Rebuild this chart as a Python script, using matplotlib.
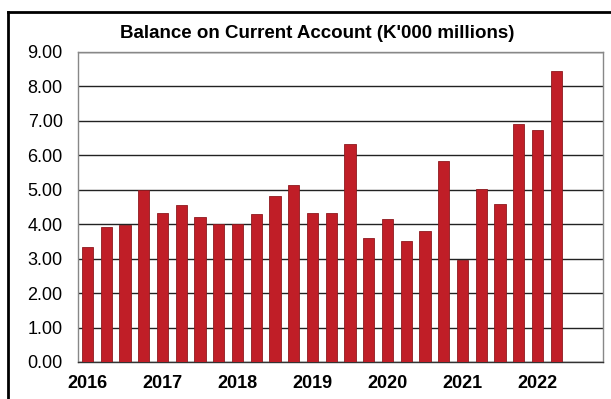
import numpy as np
import matplotlib
matplotlib.use('Agg')
import matplotlib.pyplot as plt

plt.rcParams['font.family'] = ['Liberation Sans', 'DejaVu Sans']

# quarterly balance, 2016 Q1 .. 2022 Q2
years = ['2016', '2017', '2018', '2019', '2020', '2021', '2022']
balance = [3.35, 3.92, 3.98, 5.00,
           4.32, 4.55, 4.20, 4.02,
           4.02, 4.29, 4.81, 5.15,
           4.32, 4.32, 6.32, 3.61,
           4.15, 3.52, 3.79, 5.84,
           2.96, 5.01, 4.60, 6.91,
           6.73, 8.46]

fig = plt.figure(figsize=(6.11, 3.99), dpi=100)
ax = fig.add_axes([78/611, 1 - 362/399, 525/611, 310/399])

x = np.arange(len(balance))
ax.bar(x, balance, width=0.6, color='#C01E27', edgecolor='#8E1A1F',
       linewidth=0.6, zorder=3)

ax.set_xlim(-0.5, 27.5)
ax.set_ylim(0, 9)
ax.set_yticks(np.arange(0, 9.5, 1))
ax.set_yticklabels([f'{v:.2f}' for v in np.arange(0, 9.5, 1)], fontsize=13)
ax.set_xticks(x[::4])
ax.set_xticklabels(years, fontsize=13, fontweight='bold')
ax.tick_params(axis='y', length=0, pad=11)
ax.tick_params(axis='x', length=0, pad=9)
ax.grid(axis='y', color='#222222', linewidth=1.0, zorder=0)
for s in ax.spines.values():
    s.set_color('#888888')
    s.set_linewidth(1.0)
ax.spines['bottom'].set_color('#333333')

fig.text(317/611, 1 - 33/399, "Balance on Current Account (K'000 millions)",
         ha='center', va='center', fontsize=13.5, fontweight='bold')

# outer frame (top and left edges)
fig.add_artist(plt.Line2D([8/611, 1], [1 - 12/399, 1 - 12/399],
                          transform=fig.transFigure, color='black', lw=2))
fig.add_artist(plt.Line2D([8/611, 8/611], [0, 1 - 12/399],
                          transform=fig.transFigure, color='black', lw=2))

fig.savefig('out.png', dpi=100)
